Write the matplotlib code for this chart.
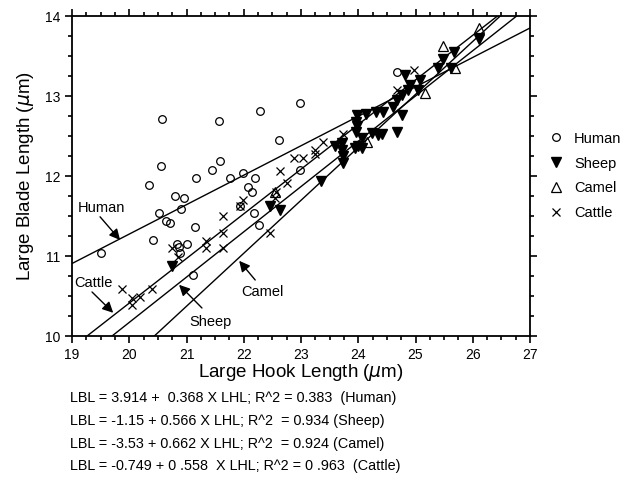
import matplotlib
matplotlib.use('Agg')
import matplotlib.pyplot as plt
import numpy as np
from matplotlib.ticker import MultipleLocator

plt.rcParams['font.family'] = ['Liberation Sans', 'DejaVu Sans']

# Human (open circles)
human_x = [20.57, 21.57, 22.28, 22.98, 20.56, 21.17, 21.45, 21.59, 21.76, 21.98,
           22.20, 22.62, 22.99, 20.34, 20.80, 20.96, 20.90, 20.52, 20.64, 20.71,
           21.15, 20.41, 19.51, 20.83, 20.87, 21.01, 20.89, 21.11, 22.07, 22.14,
           22.18, 22.27, 21.93, 24.68]
human_y = [12.71, 12.69, 12.81, 12.91, 12.13, 11.98, 12.07, 12.19, 11.98, 12.04,
           11.98, 12.45, 12.08, 11.89, 11.75, 11.73, 11.59, 11.54, 11.44, 11.41,
           11.36, 11.20, 11.04, 11.15, 11.11, 11.15, 11.04, 10.76, 11.86, 11.80,
           11.54, 11.39, 11.62, 13.30]

# Sheep (filled down triangles)
sheep_x = [26.11, 25.67, 25.48, 25.40, 25.62, 24.82, 25.08, 24.90, 25.05, 24.87,
           24.76, 24.67, 24.61, 24.44, 24.31, 24.14, 23.97, 23.96, 23.97, 23.96,
           24.76, 24.67, 24.35, 24.24, 24.06, 24.00, 24.06, 23.94, 23.71, 23.72,
           23.74, 23.74, 23.59, 23.35, 20.74, 22.46, 22.63, 24.41]
sheep_y = [13.71, 13.55, 13.46, 13.35, 13.35, 13.26, 13.20, 13.14, 13.08, 13.08,
           13.01, 12.95, 12.86, 12.80, 12.80, 12.78, 12.76, 12.68, 12.62, 12.55,
           12.76, 12.55, 12.51, 12.54, 12.47, 12.37, 12.35, 12.35, 12.41, 12.33,
           12.25, 12.16, 12.37, 11.94, 10.87, 11.63, 11.58, 12.53]

# Camel (open up triangles)
camel_x = [26.11, 25.48, 25.69, 25.17, 24.15, 22.55]
camel_y = [13.85, 13.63, 13.35, 13.04, 12.43, 11.80]

# Cattle (crosses)
cattle_x = [19.87, 20.04, 20.18, 20.40, 20.04, 20.74, 20.86, 21.34, 21.34, 21.64,
            21.64, 21.64, 21.98, 21.93, 22.64, 22.75, 22.45, 22.87, 23.04, 22.56,
            22.55, 23.24, 23.25, 23.39, 23.73, 24.67, 24.97]
cattle_y = [10.59, 10.47, 10.49, 10.59, 10.39, 11.10, 10.99, 11.19, 11.10, 11.50,
            11.29, 11.10, 11.70, 11.62, 12.06, 11.91, 11.29, 12.22, 12.22, 11.80,
            11.72, 12.27, 12.33, 12.42, 12.52, 13.08, 13.33]

# regression coefficients (intercept, slope)
fits = {
    'Human': (3.914, 0.368),
    'Sheep': (-1.15, 0.566),
    'Camel': (-3.53, 0.662),
    'Cattle': (-0.749, 0.558),
}

equations = [
    'LBL = 3.914 +  0.368 X LHL; R^2 = 0.383  (Human)',
    'LBL = -1.15 + 0.566 X LHL; R^2  = 0.934 (Sheep)',
    'LBL = -3.53 + 0.662 X LHL; R^2  = 0.924 (Camel)',
    'LBL = -0.749 + 0 .558  X LHL; R^2 = 0 .963  (Cattle)',
]

fig = plt.figure(figsize=(6.23, 4.8), dpi=100)
ax = fig.add_axes([72 / 623, 1 - 336 / 480, 458 / 623, 320 / 480])

xs = np.linspace(19, 27, 50)
for name, (b0, b1) in fits.items():
    ax.plot(xs, b0 + b1 * xs, color='black', lw=1.0)

ax.plot(human_x, human_y, 'o', ms=5.5, mfc='none', mec='black', mew=0.9,
        ls='none', label='Human')
ax.plot(sheep_x, sheep_y, 'v', ms=6.5, color='black', ls='none', label='Sheep')
ax.plot(camel_x, camel_y, '^', ms=6.5, mfc='none', mec='black', mew=0.9,
        ls='none', label='Camel')
ax.plot(cattle_x, cattle_y, 'x', ms=5.5, color='black', mew=0.9,
        ls='none', label='Cattle')

ax.set_xlim(19, 27)
ax.set_ylim(10, 14)
ax.xaxis.set_major_locator(MultipleLocator(1))
ax.xaxis.set_minor_locator(MultipleLocator(0.25))
ax.yaxis.set_major_locator(MultipleLocator(1))
ax.yaxis.set_minor_locator(MultipleLocator(0.25))
ax.tick_params(which='both', direction='out', top=True, right=True,
               labelsize=10, width=1.2)
ax.tick_params(which='major', length=5)
ax.tick_params(which='minor', length=3)
for s in ax.spines.values():
    s.set_linewidth(1.3)

ax.set_xlabel(r'Large Hook Length ($\mu$m)', fontsize=13.5, labelpad=0)
ax.set_ylabel(r'Large Blade Length ($\mu$m)', fontsize=13.5, labelpad=6)

# line labels with arrows
labels = [
    ('Human', (19.51, 11.60), (19.49, 11.49), (19.84, 11.20)),
    ('Cattle', (19.38, 10.66), (19.35, 10.55), (19.72, 10.29)),
    ('Sheep', (21.41, 10.17), (21.27, 10.35), (20.87, 10.64)),
    ('Camel', (22.32, 10.55), (22.20, 10.70), (21.92, 10.94)),
]
arrow = dict(arrowstyle='-|>', color='black', lw=1.0, mutation_scale=16,
             shrinkA=0, shrinkB=0)
for text, tpos, tail, head in labels:
    ax.text(tpos[0], tpos[1], text, fontsize=10.5, ha='center', va='center')
    ax.annotate('', xy=head, xytext=tail, arrowprops=arrow)

ax.legend(loc='center left', bbox_to_anchor=(1.01, 0.5), frameon=False,
          fontsize=10.5, labelspacing=0.75, handletextpad=0.6, handlelength=1.2)

for i, eq in enumerate(equations):
    fig.text(70 / 623, 1 - (398 + 22.8 * i) / 480, eq, fontsize=10.4,
             ha='left', va='center')

fig.savefig('out.png', dpi=100)
